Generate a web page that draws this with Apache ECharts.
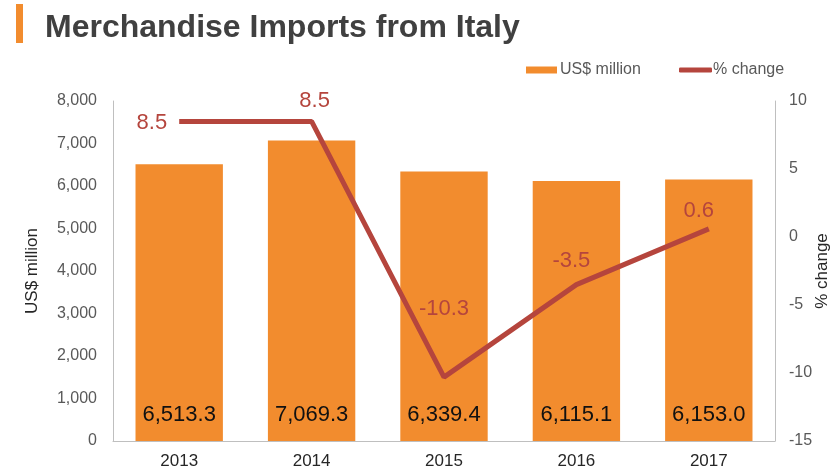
<!DOCTYPE html>
<html>
<head>
<meta charset="utf-8">
<script src="https://cdn.jsdelivr.net/npm/echarts@6/dist/echarts.min.js"></script>
<style>
  html, body { margin: 0; padding: 0; background: #fff; }
  #chart { width: 835px; height: 472px; }
</style>
</head>
<body>
<div id="chart"></div>
<script>
// data
const years = ['2013', '2014', '2015', '2016', '2017']
const imports = [6513.3, 7069.3, 6339.4, 6115.1, 6153.0]
const change = [8.5, 8.5, -10.3, -3.5, 0.6]
const leftTicks = [0, 8000, 1000]   // min, max, step
const rightTicks = [-15, 10, 5]

const orange = '#F28C2E'
const red = '#B5453D'
const font = 'Liberation Sans, Arial, sans-serif'

// where each % label sits round its point
const lineLabelPos = [
  { position: 'left', offset: [-4, 2] },
  { position: 'top', offset: [3, -1] },
  { position: 'top', offset: [0, -49] },
  { position: 'top', offset: [-5, -5] },
  { position: 'top', offset: [-10, 1] }
]

const chart = echarts.init(document.getElementById('chart'))

const option = {
  animation: false,
  textStyle: { fontFamily: font },
  title: {
    text: 'Merchandise Imports from Italy',
    left: 40,
    top: 7,
    textStyle: { fontSize: 32, fontWeight: 'bold', color: '#404040', fontFamily: font }
  },
  graphic: [
    { type: 'rect', left: 16, top: 4, shape: { width: 7, height: 39 }, style: { fill: orange } }
  ],
  legend: [
    {
      data: ['US$ million'],
      left: 521, top: 57,
      icon: 'rect', itemWidth: 31, itemHeight: 7, itemGap: 4,
      textStyle: { fontSize: 16, color: '#595959', padding: [0, 0, 0, -2] }
    },
    {
      data: ['% change'],
      left: 674, top: 57,
      icon: 'roundRect', itemWidth: 33, itemHeight: 5,
      textStyle: { fontSize: 16, color: '#595959', padding: [0, 0, 0, -4] }
    }
  ],
  grid: { left: 113, right: 60, top: 101, bottom: 31, outerBoundsMode: 'none' },
  xAxis: {
    type: 'category',
    data: years,
    axisLine: { lineStyle: { color: '#bfbfbf', width: 1 } },
    axisTick: { show: false },
    axisLabel: { fontSize: 17, color: '#262626', margin: 12 }
  },
  yAxis: [
    {
      type: 'value',
      min: leftTicks[0], max: leftTicks[1], interval: leftTicks[2],
      name: 'US$ million',
      nameLocation: 'middle',
      nameGap: 72,
      nameMoveOverlap: false,
      nameTextStyle: { fontSize: 17, color: '#262626' },
      axisLine: { show: true, lineStyle: { color: '#bfbfbf' } },
      axisTick: { show: false },
      splitLine: { show: false },
      axisLabel: {
        fontSize: 16, color: '#595959', margin: 16,
        formatter: v => v.toLocaleString('en-US')
      }
    },
    {
      type: 'value',
      min: rightTicks[0], max: rightTicks[1], interval: rightTicks[2],
      name: '% change',
      nameLocation: 'middle',
      nameGap: 39,
      nameRotate: 90,
      nameMoveOverlap: false,
      nameTextStyle: { fontSize: 17, color: '#262626' },
      axisLine: { show: true, lineStyle: { color: '#bfbfbf' } },
      axisTick: { show: false },
      splitLine: { show: false },
      axisLabel: { fontSize: 16, color: '#595959', margin: 14 }
    }
  ],
  series: [
    {
      name: 'US$ million',
      type: 'bar',
      yAxisIndex: 0,
      barWidth: '66%',
      data: imports,
      itemStyle: { color: orange },
      label: {
        show: true,
        position: 'insideBottom',
        distance: 15,
        fontSize: 22,
        color: '#111',
        formatter: p => p.value.toLocaleString('en-US', { minimumFractionDigits: 1, maximumFractionDigits: 1 })
      }
    },
    {
      name: '% change',
      type: 'line',
      yAxisIndex: 1,
      symbol: 'circle',
      symbolSize: 0,
      showSymbol: true,
      lineStyle: { color: red, width: 5 },
      itemStyle: { color: red },
      data: change.map((v, i) => ({
        value: v,
        label: {
          show: true,
          position: lineLabelPos[i].position,
          offset: lineLabelPos[i].offset,
          distance: 8,
          fontSize: 22,
          color: red,
          formatter: p => p.value.toFixed(1)
        }
      }))
    }
  ]
}

chart.setOption(option)
</script>
</body>
</html>
